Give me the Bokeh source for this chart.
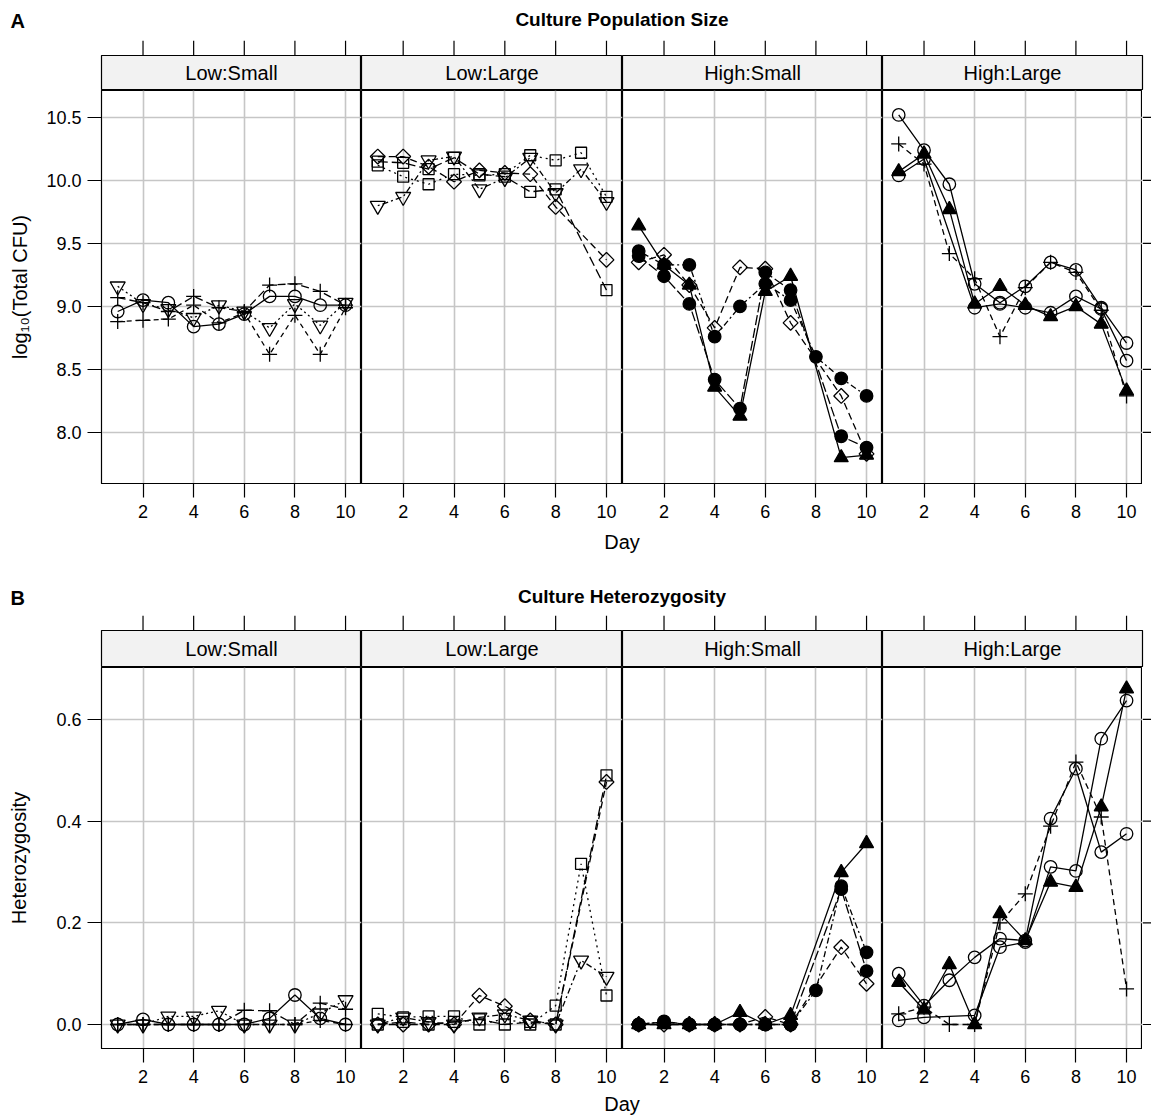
import numpy as np
from bokeh.plotting import figure
from bokeh.layouts import column, row
from bokeh.models import Range1d, FixedTicker, PrintfTickFormatter, Grid
from bokeh.embed import file_html
from bokeh.resources import INLINE
from bokeh.core.properties import value

FONT = "Liberation Sans"

# ---------------- data ----------------
days = [1, 2, 3, 4, 5, 6, 7, 8, 9, 10]
facets = ["Low:Small", "Low:Large", "High:Small", "High:Large"]
x_ticks = [2, 4, 6, 8, 10]
pop_ticks = [8.0, 8.5, 9.0, 9.5, 10.0, 10.5]
het_ticks = [0.0, 0.2, 0.4, 0.6]

# A: Culture population size, log10(Total CFU)
pop_low_small_1 = [8.96, 9.05, 9.03, 8.84, 8.86, 8.94, 9.08, 9.08, 9.01, 9.01]
pop_low_small_2 = [9.16, 9.02, 8.98, 8.91, 9.01, 8.96, 8.83, 9.02, 8.85, 9.03]
pop_low_small_3 = [9.07, 9.03, 8.96, 9.08, 8.99, 8.96, 9.17, 9.18, 9.12, 9.01]
pop_low_small_4 = [8.88, 8.89, 8.90, 9.01, 8.87, 8.95, 8.62, 8.93, 8.62, 8.99]

pop_low_large_1 = [10.19, 10.19, 10.11, 9.99, 10.08, 10.06, 10.05, 9.79, None, 9.37]
pop_low_large_2 = [10.12, 10.03, 9.97, 10.05, 10.04, 10.05, 10.20, 10.16, 10.22, 9.87]
pop_low_large_3 = [10.15, 10.14, 10.09, 10.18, 10.05, 10.03, 9.91, 9.93, None, 9.13]
pop_low_large_4 = [9.80, 9.87, 10.16, 10.19, 9.93, 10.02, 10.18, 9.90, 10.09, 9.83]

pop_high_small_1 = [9.64, 9.33, 9.17, 8.36, 8.13, 9.12, 9.24, None, 7.80, 7.82]
pop_high_small_2 = [9.44, 9.33, 9.33, 8.76, 9.00, 9.18, 9.05, 8.60, 8.43, 8.29]
pop_high_small_3 = [9.40, 9.24, 9.02, 8.42, 8.19, 9.27, 9.13, None, 7.97, 7.88]
pop_high_small_4 = [9.35, 9.41, 9.17, 8.83, 9.31, 9.30, 8.87, None, 8.29, 7.83]

pop_high_large_1 = [10.07, 10.21, 9.77, 9.02, 9.16, 9.01, 8.92, 9.00, 8.86, 8.33]
pop_high_large_2 = [10.29, 10.13, 9.42, 9.22, 8.76, 9.15, 9.35, 9.27, 8.97, 8.29]
pop_high_large_3 = [10.52, 10.24, 9.97, 9.18, 9.03, 9.16, 9.35, 9.29, 8.99, 8.71]
pop_high_large_4 = [10.04, 10.17, None, 8.99, 9.02, 8.99, 8.95, 9.08, 8.98, 8.57]

# B: Culture heterozygosity
het_low_small_1 = [0.0, 0.010, 0.0, 0.0, 0.0, 0.0, 0.012, 0.058, 0.012, 0.0]
het_low_small_2 = [0.0, 0.0, 0.016, 0.016, 0.027, 0.0, 0.0, 0.0, 0.022, 0.048]
het_low_small_3 = [0.0, 0.0, 0.0, 0.0, 0.0, 0.028, 0.027, 0.0, 0.042, 0.030]
het_low_small_4 = [0.0, 0.0, 0.0, 0.0, 0.0, 0.0, 0.0, 0.0, 0.008, 0.0]

het_low_large_1 = [0.0, 0.0, 0.0, 0.0, 0.057, 0.036, 0.008, 0.0, None, 0.477]
het_low_large_2 = [0.021, 0.014, 0.016, 0.016, 0.0, 0.011, 0.0, 0.037, 0.316, 0.057]
het_low_large_3 = [0.0, 0.005, 0.0, 0.005, 0.010, 0.0, 0.005, 0.0, None, 0.490]
het_low_large_4 = [0.0, 0.014, 0.005, 0.0, 0.014, 0.020, 0.008, 0.0, 0.126, 0.094]

het_high_small_1 = [0.0, 0.0, 0.0, 0.0, 0.024, 0.0, 0.018, None, 0.299, 0.356]
het_high_small_2 = [0.0, 0.006, 0.0, 0.0, 0.0, 0.0, 0.0, 0.067, 0.272, 0.142]
het_high_small_3 = [0.0, 0.005, 0.0, 0.0, 0.0, 0.0, 0.0, None, 0.266, 0.105]
het_high_small_4 = [0.0, 0.0, 0.0, 0.0, 0.0, 0.015, 0.0, None, 0.152, 0.080]

het_high_large_1 = [0.083, 0.029, 0.118, 0.0, 0.218, 0.165, 0.280, 0.270, 0.428, 0.660]
het_high_large_2 = [0.021, 0.034, 0.0, 0.0, 0.200, 0.257, 0.390, 0.516, 0.408, 0.070]
het_high_large_3 = [0.100, 0.037, 0.087, 0.132, 0.169, 0.165, 0.405, 0.503, 0.339, 0.375]
het_high_large_4 = [0.008, 0.014, None, 0.018, 0.152, 0.162, 0.310, 0.302, 0.562, 0.637]

pop_series = {
    "Low:Small": [pop_low_small_1, pop_low_small_2, pop_low_small_3, pop_low_small_4],
    "Low:Large": [pop_low_large_1, pop_low_large_2, pop_low_large_3, pop_low_large_4],
    "High:Small": [pop_high_small_1, pop_high_small_2, pop_high_small_3, pop_high_small_4],
    "High:Large": [pop_high_large_1, pop_high_large_2, pop_high_large_3, pop_high_large_4],
}
het_series = {
    "Low:Small": [het_low_small_1, het_low_small_2, het_low_small_3, het_low_small_4],
    "Low:Large": [het_low_large_1, het_low_large_2, het_low_large_3, het_low_large_4],
    "High:Small": [het_high_small_1, het_high_small_2, het_high_small_3, het_high_small_4],
    "High:Large": [het_high_large_1, het_high_large_2, het_high_large_3, het_high_large_4],
}

# ---------------- styles ----------------
STYLES = {
    "Low:Small": [("circle", False, "solid"), ("inverted_triangle", False, "2 3"),
                  ("cross", False, "8 4"), ("cross", False, "5 4")],
    "Low:Large": [("diamond", False, "7 4"), ("square", False, "2 4"),
                  ("square", False, "10 4"), ("inverted_triangle", False, "2 3 6 3")],
    "High:Small": [("triangle", True, "solid"), ("circle", True, "2 3 6 3"),
                   ("circle", True, "10 3"), ("diamond", False, "7 4")],
    "High:Large": [("triangle", True, "solid"), ("cross", False, "6 4"),
                   ("circle", False, "solid"), ("circle", False, "solid")],
}
SIZES = {"circle": 12.5, "inverted_triangle": 15, "triangle": 14, "cross": 15,
         "square": 11, "diamond": 10.5}

W = 1151
LEFT = 101
FRAME_W = [260, 261, 260, 260]
RIGHT = 9
XR = (0.36, 10.63)
BOTTOM = 46
GRID_COLOR = "#c6c6c6"
TICK_LEN = 14


def base_fig(width, height, xr, yr, left=0, right=0, top=0, bottom=0):
    p = figure(width=width, height=height, x_range=Range1d(*xr), y_range=Range1d(*yr),
               output_backend="svg", toolbar_location=None, title=None,
               x_axis_location=None, y_axis_location=None,
               min_border_left=left, min_border_right=right, min_border_top=top,
               min_border_bottom=bottom)
    p.xgrid.visible = False
    p.ygrid.visible = False
    p.outline_line_color = None
    return p


def draw_series(p, vals, style):
    marker, filled, dash = style
    xs = [d for d, v in zip(days, vals) if v is not None]
    ys = [v for v in vals if v is not None]
    p.line(xs, ys, line_color="black", line_width=1.3, line_dash=dash)
    m = "square" if marker == "diamond" else marker
    ang = np.pi / 4 if marker == "diamond" else 0.0
    p.scatter(xs, ys, marker=m, angle=ang, size=SIZES[marker], line_color="black",
              line_width=1.3, fill_color="black" if filled else None)


def text_fig(height, items):
    p = base_fig(W, height, (0, W), (height, 0))
    for (x, y, t, size, style, align) in items:
        p.text(x=[x], y=[y], text=[t], text_font=value(FONT), text_font_size=size,
               text_font_style=style, text_align=align, text_baseline="middle", text_color="black")
    return p


def top_tick_fig(i):
    left = LEFT if i == 0 else 0
    right = RIGHT if i == 3 else 0
    p = base_fig(left + FRAME_W[i] + right, 15, XR, (0, 1), left=left, right=right)
    n = len(x_ticks)
    p.segment(x0=x_ticks, y0=[0] * n, x1=x_ticks, y1=[1] * n, line_color="black", line_width=1.2)
    return p


def right_tick_fig(frame_h, y_rng, y_ticks):
    p = base_fig(RIGHT, frame_h + BOTTOM, (0, 1), y_rng, bottom=BOTTOM)
    n = len(y_ticks)
    p.segment(x0=[0] * n, y0=y_ticks, x1=[1] * n, y1=y_ticks, line_color="black", line_width=1.2)
    return p


def strip_fig(i, name, strip_h):
    left = LEFT if i == 0 else 0
    right = RIGHT if i == 3 else 0
    p = base_fig(left + FRAME_W[i] + right, strip_h, XR, (0, 1), left=left, right=right)
    p.background_fill_color = "#f2f2f2"
    p.outline_line_color = "black"
    p.outline_line_width = 1.2
    p.text(x=[(XR[0] + XR[1]) / 2], y=[0.5], text=[name], text_font=value(FONT),
           text_font_size="20px", text_align="center", text_baseline="middle", text_color="black")
    return p


def facet_fig(i, frame_h, y_rng, y_ticks, ylab, ylab_standoff, vals_list, styles):
    left = LEFT if i == 0 else 0
    p = figure(width=left + FRAME_W[i], height=frame_h + BOTTOM,
               x_range=Range1d(*XR), y_range=Range1d(*y_rng),
               output_backend="svg", toolbar_location=None, title=None,
               y_axis_location="left" if i == 0 else None,
               min_border_left=left, min_border_right=0, min_border_top=0,
               min_border_bottom=BOTTOM)
    p.xgrid.visible = False
    p.ygrid.visible = False
    p.add_layout(Grid(dimension=0, ticker=FixedTicker(ticks=x_ticks),
                      grid_line_color=GRID_COLOR, grid_line_width=1.6))
    p.add_layout(Grid(dimension=1, ticker=FixedTicker(ticks=y_ticks),
                      grid_line_color=GRID_COLOR, grid_line_width=1.6))
    p.outline_line_color = "black"
    p.outline_line_width = 1.2
    p.background_fill_color = "white"

    xa = p.xaxis[0]
    xa.ticker = FixedTicker(ticks=x_ticks)
    xa.major_tick_out = TICK_LEN
    xa.major_tick_in = 0
    xa.minor_tick_line_color = None
    xa.axis_line_color = "black"
    xa.major_tick_line_color = "black"
    xa.major_tick_line_width = 1.2
    xa.major_label_text_font = FONT
    xa.major_label_text_font_size = "18px"
    xa.major_label_text_color = "black"
    xa.major_label_standoff = 7

    if i == 0:
        ya = p.yaxis[0]
        ya.ticker = FixedTicker(ticks=y_ticks)
        ya.formatter = PrintfTickFormatter(format="%.1f")
        ya.major_tick_out = TICK_LEN
        ya.major_tick_in = 0
        ya.minor_tick_line_color = None
        ya.axis_line_color = "black"
        ya.major_tick_line_color = "black"
        ya.major_tick_line_width = 1.2
        ya.major_label_text_font = FONT
        ya.major_label_text_font_size = "18px"
        ya.major_label_text_color = "black"
        ya.major_label_standoff = 6
        ya.axis_label = ylab
        ya.axis_label_text_font = FONT
        ya.axis_label_text_font_size = "20px"
        ya.axis_label_text_font_style = "normal"
        ya.axis_label_text_color = "black"
        ya.axis_label_standoff = ylab_standoff

    for vals, st in zip(vals_list, styles):
        draw_series(p, vals, st)
    return p


header_a = text_fig(40, [(10, 20, "A", "20px", "bold", "left"),
                         (621.5, 19, "Culture Population Size", "19px", "bold", "center")])
ticks_a = row(*[top_tick_fig(i) for i in range(4)])
strips_a = row(*[strip_fig(i, f, 35) for i, f in enumerate(facets)])
facets_a = row(*([facet_fig(i, 393, (7.595, 10.714), pop_ticks, "log\u2081\u2080(Total CFU)", 12,
                             pop_series[f], STYLES[f]) for i, f in enumerate(facets)]
                 + [right_tick_fig(393, (7.595, 10.714), pop_ticks)]))
mid = text_fig(86, [(621.5, 12, "Day", "20px", "normal", "center"),
                    (10, 68, "B", "20px", "bold", "left"),
                    (621.5, 67, "Culture Heterozygosity", "19px", "bold", "center")])
ticks_b = row(*[top_tick_fig(i) for i in range(4)])
strips_b = row(*[strip_fig(i, f, 37) for i, f in enumerate(facets)])
facets_b = row(*([facet_fig(i, 381, (-0.0472, 0.702), het_ticks, "Heterozygosity", 23,
                             het_series[f], STYLES[f]) for i, f in enumerate(facets)]
                 + [right_tick_fig(381, (-0.0472, 0.702), het_ticks)]))
footer = text_fig(26, [(621.5, 9, "Day", "20px", "normal", "center")])

layout = column(header_a, ticks_a, strips_a, facets_a, mid, ticks_b, strips_b, facets_b, footer)

open("out.html", "w").write(file_html(layout, INLINE))
